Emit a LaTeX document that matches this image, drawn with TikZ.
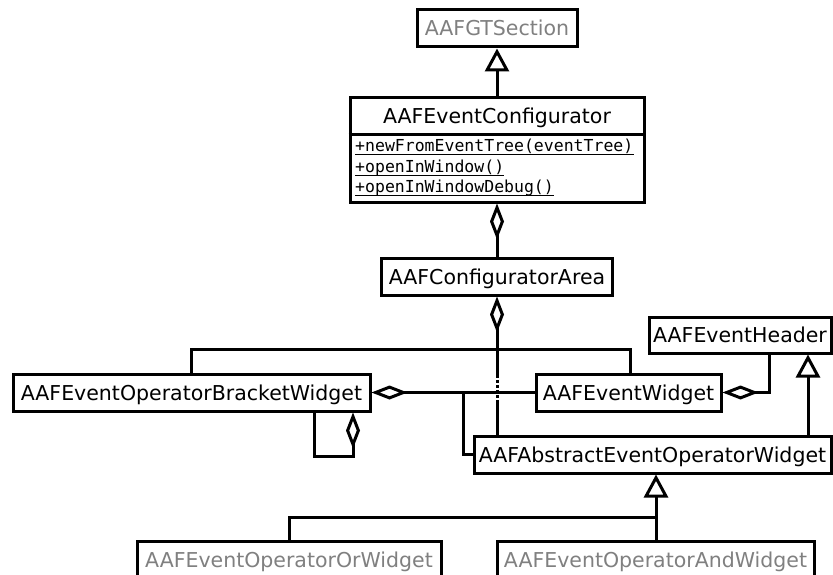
\documentclass[tikz,border=0pt]{standalone}
\usepackage{fontspec}
\setmainfont{DejaVu Sans}
\setmonofont{DejaVu Sans Mono}
\usetikzlibrary{arrows.meta}
\definecolor{pale}{gray}{0.5}
\tikzset{
  cls/.style={draw, line width=3pt, inner sep=0pt, fill=white,
    minimum height=37pt, text height=15pt, text depth=0pt,
    font=\fontsize{20.5}{24}\selectfont},
  ghost/.style={cls, text=pale},
  link/.style={line width=3pt},
  inherit/.style={link, -{Triangle[open, length=23pt, width=24pt, fill=white]}},
  agg/.style={link, -{Diamond[open, length=36pt, width=14pt, fill=white]}},
  meth/.style={anchor=base west, inner sep=0pt,
    font=\ttfamily\fontsize{16.5}{20}\selectfont},
  uline/.style={line width=1.3pt},
}
\begin{document}
\begin{tikzpicture}[x=1pt, y=-1pt]
\useasboundingbox (0,0) rectangle (833,575);
\clip (0,0) rectangle (833,575);

% classes
\node[ghost, minimum width=160pt] (gt) at (497,28.5) {AAFGTSection};
\node[cls, minimum width=294pt, minimum height=104pt] (conf) at (497,150) {};
\node[inner sep=0pt, text height=15pt, text depth=0pt,
      font=\fontsize{20.5}{24}\selectfont] (confname) at (497,116.5) {AAFEventConfigurator};
\draw[link] (conf.west |- 0,135) -- (conf.east |- 0,135);
\node[meth] (m1) at (355,151.5) {+newFromEventTree(eventTree)};
\node[meth] (m2) at (355,172.5) {+openInWindow()};
\node[meth] (m3) at (355,192.5) {+openInWindowDebug()};
\foreach \m in {m1,m2,m3}
  \draw[uline] ([yshift=-2.8pt]\m.base west) -- ([yshift=-2.8pt]\m.base east);

\node[cls, minimum width=231pt] (area) at (497,276.5) {AAFConfiguratorArea};
\node[cls, minimum width=357pt] (bracket) at (191.5,392.5) {AAFEventOperatorBracketWidget};
\node[cls, minimum width=185pt] (ew) at (628.5,392.5) {AAFEventWidget};
\node[cls, minimum width=182pt, minimum height=36pt] (header) at (740,335) {AAFEventHeader};
\node[cls, minimum width=357pt] (abs) at (652.5,454.5) {AAFAbstractEventOperatorWidget};
\node[ghost, minimum width=304pt] (or) at (289,559.5) {AAFEventOperatorOrWidget};
\node[ghost, minimum width=317pt] (and) at (655.5,559.5) {AAFEventOperatorAndWidget};

% junction points
\coordinate (jA) at (497,349);
\coordinate (dA) at (497,375);
\coordinate (dB) at (497,402);
\coordinate (jB) at (463,392.5);
\coordinate (jC) at (656,517);

% generalisations
\draw[inherit] (conf.north) -- (gt.south);
\draw[inherit] ([xshift=155.5pt]abs.north) -- ([xshift=155.5pt]abs.north |- header.south);
\draw[inherit] (jC) -- (jC |- abs.south);
\draw[link] (jC) -| (or.north);
\draw[link] (jC) -- (jC |- and.north);

% aggregations
\draw[agg] (area.north) -- (conf.south);
\draw[agg] (jA) -- (area.south);
\draw[link] (jA) -| (bracket.north);
\draw[link] (jA) -| ([xshift=1.5pt]ew.north);
\draw[link] (jA) -- (dA);
\draw[link, dash pattern=on 2.5pt off 2.5pt] (dA) -- (dB);
\draw[link] (dB) -- (dB |- abs.north);
\draw[agg] (ew.west) -- (bracket.east);
\draw[link] (jB) |- (abs.west);
\draw[agg] ([xshift=122.5pt]bracket.south) -- ++(0,44) -| ([xshift=161.5pt]bracket.south);
\draw[agg] ([xshift=29pt]header.south) |- (ew.east);
\end{tikzpicture}
\end{document}
